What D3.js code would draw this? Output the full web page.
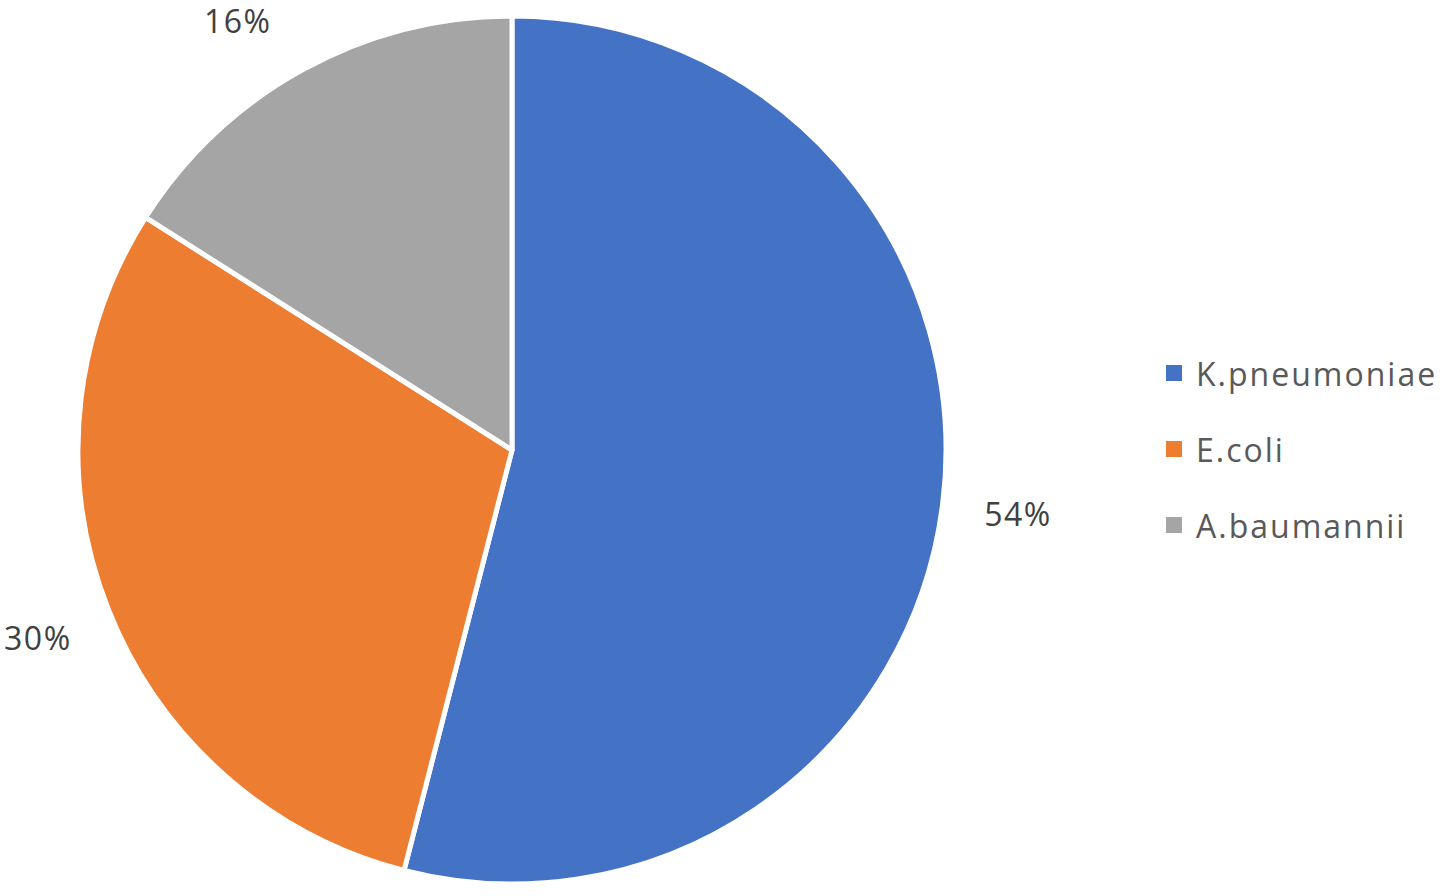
<!DOCTYPE html>
<html><head><meta charset="utf-8">
<script src="https://cdn.jsdelivr.net/npm/d3@7"></script>
<style>html,body{margin:0;padding:0;background:#fff;}svg{display:block;}</style>
</head><body>
<script>
const categories = ["K.pneumoniae", "E.coli", "A.baumannii"];
const values = [54, 30, 16];
const labels = ["54%", "30%", "16%"];
const colors = ["#4472C4", "#ED7D31", "#A5A5A5"];

const W = 1440, H = 896;
const cx = 512, cy = 450, r = 434, labelR = 510;
const svg = d3.select("body").append("svg").attr("width", W).attr("height", H);

const pie = d3.pie().sort(null).value(d => d.v);
const data = categories.map((c, i) => ({c, v: values[i], l: labels[i], col: colors[i]}));
const arcs = pie(data);
const arc = d3.arc().innerRadius(0).outerRadius(r);

const g = svg.append("g").attr("transform", `translate(${cx},${cy})`);
g.selectAll("path").data(arcs).join("path")
  .attr("d", arc).attr("fill", d => d.data.col)
  .attr("stroke", "#fff").attr("stroke-width", 5).attr("stroke-linejoin", "round");

const font = "'Open Sans', Lato, sans-serif";
g.selectAll("text.lab").data(arcs).join("text").attr("class", "lab")
  .attr("font-family", font).attr("font-size", 32).attr("letter-spacing", 1.5).attr("fill", "#404040")
  .attr("text-anchor", "middle").attr("dominant-baseline", "central")
  .text(d => d.data.l)
  .each(function(d) {
    const a = (d.startAngle + d.endAngle) / 2;
    let x = labelR * Math.sin(a), y = -labelR * Math.cos(a);
    const minY = 20 - cy;
    if (y < minY) { y = minY; x = Math.sign(x) * Math.sqrt(labelR * labelR - y * y); }
    d3.select(this).attr("x", x).attr("y", y);
  });

const leg = svg.append("g").attr("transform", "translate(1166,373)");
const items = leg.selectAll("g").data(data).join("g").attr("transform", (d, i) => `translate(0,${i * 76})`);
items.append("rect").attr("x", 0).attr("y", -8).attr("width", 16).attr("height", 16).attr("fill", d => d.col);
items.append("text").attr("x", 30).attr("y", 0).attr("dominant-baseline", "central")
  .attr("font-family", font).attr("font-size", 32).attr("letter-spacing", 2).attr("fill", "#595959").text(d => d.c);
</script>
</body></html>
